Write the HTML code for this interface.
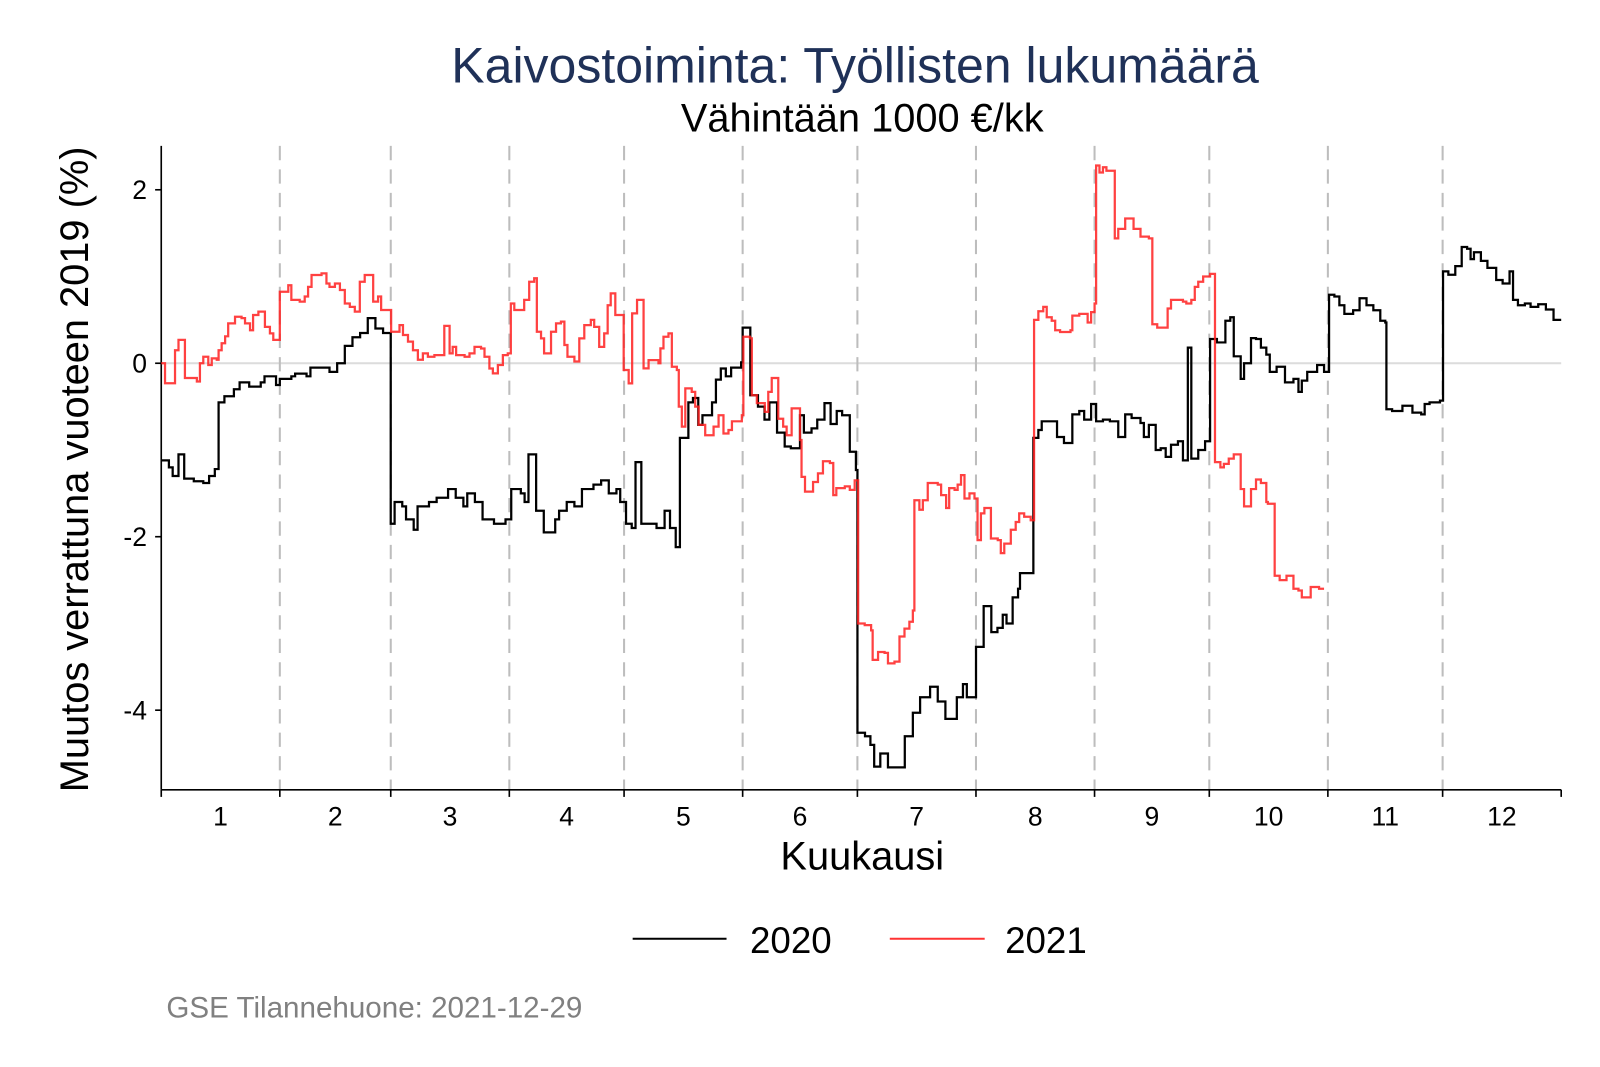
<!DOCTYPE html>
<html><head><meta charset="utf-8"><style>
html,body{margin:0;padding:0;background:#fff;}
svg{display:block;font-family:"Liberation Sans",Arial,sans-serif;}
</style></head><body>
<svg id="chart" width="1600" height="1067" viewBox="0 0 1568 1045.7" xmlns="http://www.w3.org/2000/svg">
<rect x="0" y="0" width="1568" height="1045.7" fill="#fff"/>
<text x="838" y="81" text-anchor="middle" font-size="49" fill="#1f3158">Kaivostoiminta: Työllisten lukumäärä</text>
<text x="845" y="129" text-anchor="middle" font-size="39" fill="#000">Vähintään 1000 €/kk</text>
<g id="grid"></g>
<g id="axes"></g>
<g id="series"></g>
<text transform="translate(86,460) rotate(-90)" text-anchor="middle" font-size="39" fill="#000">Muutos verrattuna vuoteen 2019 (%)</text>
<text x="845" y="852" text-anchor="middle" font-size="39" fill="#000">Kuukausi</text>
<g>
<g><line x1="620" y1="920" x2="712" y2="920" stroke="#000" stroke-width="2"/><text x="735" y="934" font-size="36">2020</text></g>
<g><line x1="872" y1="920" x2="965" y2="920" stroke="#ff3333" stroke-width="2"/><text x="985" y="934" font-size="36">2021</text></g>
</g>
<text x="163" y="997" font-size="29" fill="#808080">GSE Tilannehuone: 2021-12-29</text>
</svg>
<script>
const monthLabels=["1","2","3","4","5","6","7","8","9","10","11","12"];
const monthStarts=[0,31,60,91,121,152,182,213,244,274,305,335,366];
const yTicks=[-4,-2,0,2];
const days2020=[0,2,3,4.5,6,8.5,11,12.5,14,15,16.5,19,20.5,23,26,27,30,31,34,35,38,39,42,44,46,48,50,52,54,56,58,60,61,63,64,66,67,70,72,75,77,79,80,82,84,87,90,91.5,94,95,96,98,100,103,104,106,108,110,113,115,117,119,120,121.5,123,124,125.5,129.5,131.6,133,134.5,135.6,137.8,139,140.4,141.5,144,145,146.3,147.6,149,151.6,152,154,156,157.7,159,161,163,164.6,167,168,170,171.5,173.4,175,176.6,178,180,181.6,182,184,185.4,186.4,188,190,194.4,196.5,198.4,201,203,205,208,209.6,210.6,213,215,217,218.6,220,221,222.6,224,224.5,228,229.3,230.2,234.2,236,238.2,240,241.3,243.1,244.4,246.2,248,250.2,252,253.7,256,256.9,258.2,260,261.3,262.6,264,265.8,267.1,268.4,269.3,271.1,272.9,274.2,276,278.2,279.5,280.4,282.2,283.1,284.9,286.2,287.5,288.9,289.8,291.6,293.8,296,297.3,298.2,299.6,302.2,304,305.3,306.7,308,309.3,311.6,313.3,315.1,316.9,318.7,320,320.3,321.8,324.5,327.1,329.4,330.3,331.6,334.3,335.1,336.5,338.3,340,341.4,342.3,343.2,345,346.7,349,350.7,352.5,353.4,354.7,356.5,358,360,362,364];
const values2020=[-1.12,-1.2,-1.3,-1.05,-1.33,-1.36,-1.38,-1.3,-1.22,-0.45,-0.38,-0.3,-0.22,-0.27,-0.22,-0.15,-0.25,-0.18,-0.15,-0.12,-0.15,-0.05,-0.05,-0.1,0.0,0.2,0.3,0.35,0.52,0.4,0.35,-1.85,-1.6,-1.65,-1.8,-1.92,-1.65,-1.6,-1.55,-1.45,-1.55,-1.65,-1.5,-1.6,-1.8,-1.85,-1.8,-1.45,-1.5,-1.6,-1.05,-1.7,-1.95,-1.8,-1.7,-1.6,-1.65,-1.45,-1.4,-1.35,-1.5,-1.45,-1.6,-1.85,-1.9,-1.14,-1.85,-1.9,-1.7,-1.9,-2.12,-0.86,-0.45,-0.4,-0.71,-0.6,-0.45,-0.19,-0.06,-0.15,-0.05,0.01,0.41,-0.37,-0.5,-0.65,-0.45,-0.8,-0.96,-0.98,-0.6,-0.8,-0.75,-0.65,-0.46,-0.7,-0.55,-0.6,-1.02,-1.23,-4.26,-4.3,-4.4,-4.65,-4.5,-4.66,-4.3,-4.03,-3.85,-3.73,-3.9,-4.1,-3.85,-3.7,-3.85,-3.27,-2.8,-3.1,-3.05,-2.9,-3.0,-2.7,-2.6,-2.42,-0.86,-0.77,-0.67,-0.85,-0.92,-0.59,-0.55,-0.65,-0.47,-0.67,-0.65,-0.67,-0.85,-0.59,-0.63,-0.69,-0.85,-0.71,-1.0,-0.98,-1.08,-0.94,-0.9,-1.12,0.18,-1.1,-1.0,-0.9,0.28,0.24,0.49,0.53,0.08,-0.18,0.0,0.29,0.28,0.18,0.1,-0.1,-0.04,-0.22,-0.18,-0.33,-0.2,-0.1,-0.02,-0.1,0.79,0.77,0.67,0.57,0.61,0.75,0.67,0.61,0.49,0.47,-0.53,-0.55,-0.49,-0.57,-0.59,-0.47,-0.45,-0.43,1.06,1.02,1.12,1.34,1.32,1.2,1.28,1.18,1.1,0.96,0.92,1.06,0.73,0.67,0.69,0.65,0.68,0.62,0.5,0.42];
const days2021=[0,1,3.6,4.5,6.2,9.3,10.1,11,12.3,13.2,14.5,15,15.8,16.7,17.5,19.3,21,21.9,23.2,24,25.4,27.1,28.4,29.3,31,33.2,34,36.2,37.5,38.4,39.3,41.9,43.2,44,45.4,46.7,48,49.3,50.6,51.9,53.2,55.4,56.7,57.5,60.1,62.3,63.2,64.5,65.8,67.1,68.4,69.7,71.4,74,75.4,76.2,77.1,79.3,80.6,81.9,83.6,84.5,85.8,86.7,88,89.3,90.6,91.4,92.3,94.9,96.2,97.5,98.2,99.3,100.1,101.9,103.2,104.5,105.4,106.2,108,109.3,110.6,112.3,113.2,114.5,115.8,116.7,117.5,118.7,120.9,122.2,123.1,124.4,126.1,127.4,130,130.5,131.3,132.6,133.5,134.8,135.3,136.1,137,138.7,139.6,140.5,142.2,144.4,145.7,147,148.3,149.2,151.8,152.2,153.9,154.4,155.7,157.8,158.7,159.6,161.3,162.6,163.5,164.8,167,167.4,168.3,170.4,171.7,173,174.8,175.7,176.5,178.7,180,181.3,182.2,183.9,185.6,186,187.4,189.1,190,191.7,193,194.3,195.6,196.5,196.9,198.2,199.1,200.4,203,203.9,205.2,206,207.4,208.2,209.1,210,211.3,212.6,213.4,214.3,215.2,216.9,218.7,219.5,220.4,222.1,223.4,224.3,225.6,227.3,228.2,229.3,230.6,231.5,232.8,233.7,235,237.7,238.2,240,242.2,243.1,244,244.4,245.3,246.2,247.1,249.3,250.2,252,252.9,254.2,256,258.2,259.1,260.4,263.1,264,267.1,268,269.3,270.2,271.1,272.4,274.2,275.5,276.9,277.8,279.1,280.4,282.2,283.1,284.9,286.2,287.5,288.9,289.3,291.1,292.4,294.2,296,297.3,298.2,300.5,302.7];
const values2021=[0,-0.23,0.15,0.27,-0.17,-0.21,0,0.075,-0.02,0.056,0.04,0.15,0.23,0.31,0.46,0.537,0.52,0.46,0.38,0.556,0.595,0.42,0.345,0.27,0.825,0.9,0.73,0.71,0.77,0.88,1.018,1.037,0.92,0.88,0.92,0.845,0.69,0.65,0.595,0.94,1.018,0.71,0.77,0.614,0.364,0.44,0.326,0.25,0.15,0.04,0.114,0.075,0.094,0.43,0.114,0.19,0.094,0.075,0.114,0.19,0.17,0.075,-0.06,-0.116,-0.02,0.094,0.114,0.69,0.614,0.73,0.94,0.98,0.364,0.287,0.114,0.364,0.46,0.48,0.21,0.075,0.02,0.287,0.44,0.5,0.42,0.19,0.345,0.67,0.806,0.556,-0.078,-0.232,0.575,0.73,-0.059,0.037,0,0.172,0.306,0.345,-0.04,-0.078,-0.5,-0.73,-0.29,-0.33,-0.5,-0.71,-0.83,-0.73,-0.6,-0.81,-0.77,-0.67,-0.6,0.306,0.287,-0.37,-0.46,-0.56,-0.33,-0.17,-0.64,-0.73,-0.83,-0.52,-0.885,-1.31,-1.48,-1.37,-1.27,-1.13,-1.15,-1.52,-1.44,-1.42,-1.46,-1.35,-3.0,-3.02,-3.08,-3.42,-3.33,-3.34,-3.46,-3.44,-3.15,-3.06,-2.98,-2.85,-1.58,-1.69,-1.58,-1.38,-1.40,-1.52,-1.67,-1.44,-1.46,-1.40,-1.29,-1.56,-1.5,-1.56,-2.04,-1.73,-1.67,-2.02,-2.04,-2.19,-2.08,-1.92,-1.83,-1.73,-1.77,-1.81,0.5,0.6,0.65,0.53,0.49,0.38,0.36,0.38,0.55,0.57,0.47,0.59,0.69,2.28,2.2,2.26,2.22,1.44,1.55,1.67,1.67,1.55,1.46,1.44,0.45,0.41,0.63,0.73,0.71,0.69,0.73,0.88,0.94,1.0,1.03,-1.14,-1.2,-1.16,-1.1,-1.05,-1.45,-1.65,-1.45,-1.34,-1.38,-1.6,-1.62,-2.45,-2.5,-2.45,-2.6,-2.62,-2.7,-2.58,-2.6,-2.63];
const end2020=366, end2021=304;
const X0=158,X1=1530,Y0=356,PPU=85,YTOP=143,YBOT=774;
const NS="http://www.w3.org/2000/svg";
function xs(d){return X0+d*(X1-X0)/366;}
function ys(v){return Y0-v*PPU;}
function mk(tag,attrs,parent){const e=document.createElementNS(NS,tag);for(const k in attrs)e.setAttribute(k,attrs[k]);parent.appendChild(e);return e;}
const grid=document.getElementById('grid'),axes=document.getElementById('axes'),series=document.getElementById('series');
let zl=mk('line',{x1:X0,x2:X1,y1:ys(0),y2:ys(0),stroke:'#dcdcdc','stroke-width':2},grid);


for(let i=1;i<monthStarts.length-1;i++){
  const x=xs(monthStarts[i]);
  let g=mk('line',{x1:x,x2:x,y1:YTOP,y2:YBOT,stroke:'#bdbdbd','stroke-width':2,'stroke-dasharray':'14,9'},grid);
  
  
}
let ya=mk('line',{x1:X0,x2:X0,y1:YTOP,y2:YBOT,stroke:'#000','stroke-width':1.6},axes);


let xa=mk('line',{x1:X0,x2:X1,y1:YBOT,y2:YBOT,stroke:'#000','stroke-width':1.6},axes);


yTicks.forEach(v=>{
  let t=mk('line',{x1:X0-6,x2:X0,y1:ys(v),y2:ys(v),stroke:'#000','stroke-width':1.6},axes);
  
  
  let l=mk('text',{x:X0-14,y:ys(v)+9,'text-anchor':'end','font-size':26},axes);
  l.textContent=String(v);
  
  
});
monthStarts.forEach(d=>{
  let t=mk('line',{x1:xs(d),x2:xs(d),y1:YBOT,y2:YBOT+7,stroke:'#000','stroke-width':1.6},axes);
  
  
});
monthLabels.forEach((m,i)=>{
  let l=mk('text',{x:xs((monthStarts[i]+monthStarts[i+1])/2),y:809,'text-anchor':'middle','font-size':26},axes);
  l.textContent=m;
  
  
});
function stepPath(days,vals,end){
  let d='M'+xs(days[0]).toFixed(1)+' '+ys(vals[0]).toFixed(1);
  for(let i=1;i<days.length;i++){d+=' H'+xs(days[i]).toFixed(1)+' V'+ys(vals[i]).toFixed(1);}
  d+=' H'+xs(end).toFixed(1);
  return d;
}
let p20=mk('path',{d:stepPath(days2020,values2020,end2020),fill:'none',stroke:'#000','stroke-width':2.2},series);


let p21=mk('path',{d:stepPath(days2021,values2021,end2021),fill:'none',stroke:'#ff2020','stroke-opacity':0.85,'stroke-width':2.2},series);


</script>
</body></html>
